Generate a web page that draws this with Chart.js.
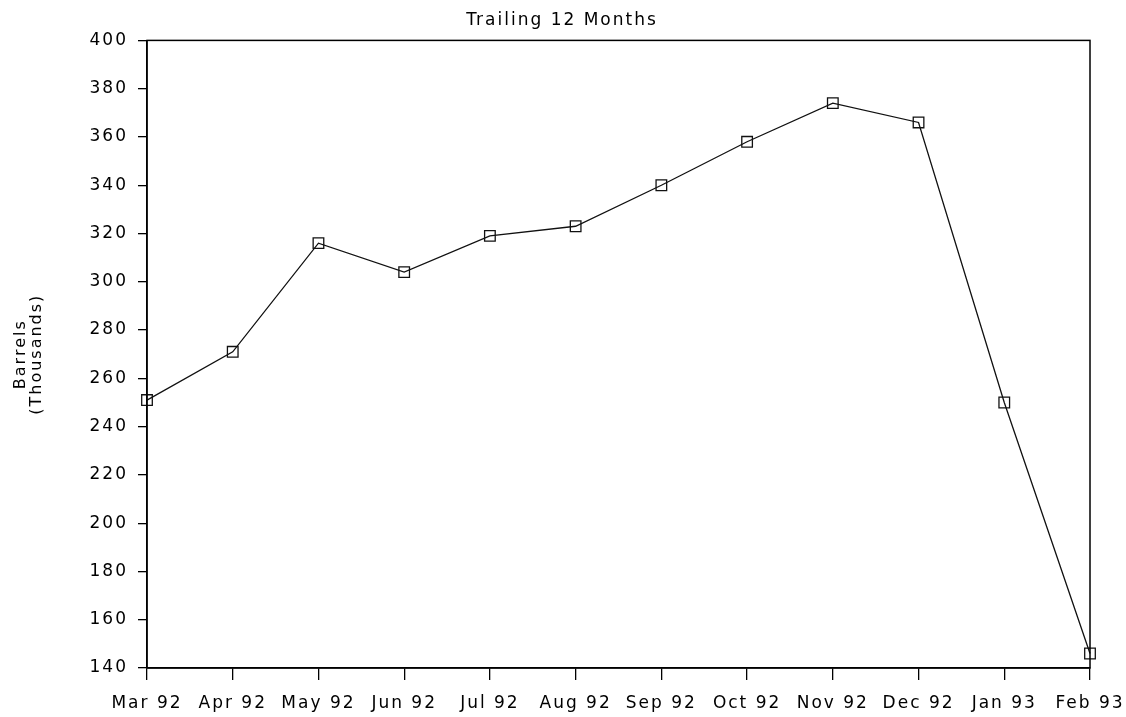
<!DOCTYPE html>
<html>
<head>
<meta charset="utf-8">
<script src="https://cdn.jsdelivr.net/npm/chart.js@4/dist/chart.umd.min.js"></script>
<style>
  html, body { margin: 0; padding: 0; background: #fff; }
  #wrap { width: 1126px; height: 717px; }
</style>
</head>
<body>
<div id="wrap"><canvas id="trailing-chart"></canvas></div>
<script>
const months = [
  "Mar 92", "Apr 92", "May 92", "Jun 92", "Jul 92", "Aug 92",
  "Sep 92", "Oct 92", "Nov 92", "Dec 92", "Jan 93", "Feb 93",
];
const barrels = [251, 271, 316, 304, 319, 323, 340, 358, 374, 366, 250, 146];
const yTicks = [140, 160, 180, 200, 220, 240, 260, 280, 300, 320, 340, 360, 380, 400];

const textFont = { family: "DejaVu Sans", size: 17 };

// old plotter look: wide letter spacing, box round the plot
const spacing = {
  id: "spacing",
  beforeLayout: (chart) => { chart.ctx.letterSpacing = "2px"; },
  beforeDraw: (chart) => { chart.ctx.letterSpacing = "2px"; },
};

const frame = {
  id: "frame",
  afterDatasetsDraw: (chart) => {
    const { ctx, chartArea } = chart;
    ctx.save();
    ctx.strokeStyle = "#000";
    ctx.lineWidth = 1.5;
    ctx.strokeRect(chartArea.left, chartArea.top, chartArea.right - chartArea.left, chartArea.bottom - chartArea.top);
    ctx.restore();
  },
};

const chart = new Chart(document.querySelector("#trailing-chart"), {
  type: "line",
  data: {
    labels: months,
    datasets: [
      {
        data: barrels,
        borderColor: "#111",
        borderWidth: 1.3,
        tension: 0,
        pointStyle: "rect",
        pointRadius: 7.5,
        pointBorderWidth: 1.3,
        pointBorderColor: "#111",
        pointBackgroundColor: "rgba(255,255,255,0)",
      },
    ],
  },
  options: {
    responsive: true,
    maintainAspectRatio: false,
    animation: false,
    layout: { padding: { left: 0, right: 2, top: 0, bottom: 0 } },
    plugins: {
      legend: { display: false },
      tooltip: { enabled: false },
      title: {
        display: true,
        text: "Trailing 12 Months",
        color: "#000",
        font: { family: "DejaVu Sans", size: 17, weight: "normal", lineHeight: 1.2 },
        padding: { top: 10, bottom: 10 },
      },
    },
    scales: {
      x: {
        offset: false,
        afterFit: (scale) => {
          scale.height = 49;
          scale.paddingRight = 36;
        },
        grid: { drawOnChartArea: false, drawTicks: true, tickLength: 12, color: "#000", lineWidth: 1.3 },
        border: { display: true, color: "#000", width: 1.5 },
        ticks: { color: "#000", font: textFont, padding: 13, maxRotation: 0, autoSkip: false },
      },
      y: {
        min: 140,
        max: 400,
        afterBuildTicks: (scale) => {
          scale.ticks = yTicks.map((v) => ({ value: v }));
        },
        afterFit: (scale) => { scale.width = 147; },
        grid: { drawOnChartArea: false, drawTicks: true, tickLength: 9, color: "#000", lineWidth: 1.3 },
        border: { display: true, color: "#000", width: 1.5 },
        ticks: { color: "#000", font: textFont, padding: 10 },
        title: {
          display: true,
          text: ["Barrels", "(Thousands)"],
          color: "#000",
          font: { family: "DejaVu Sans", size: 16, lineHeight: 1.05 },
          padding: { top: 12, bottom: 0 },
        },
      },
    },
  },
  plugins: [spacing, frame],
});
</script>
</body>
</html>
